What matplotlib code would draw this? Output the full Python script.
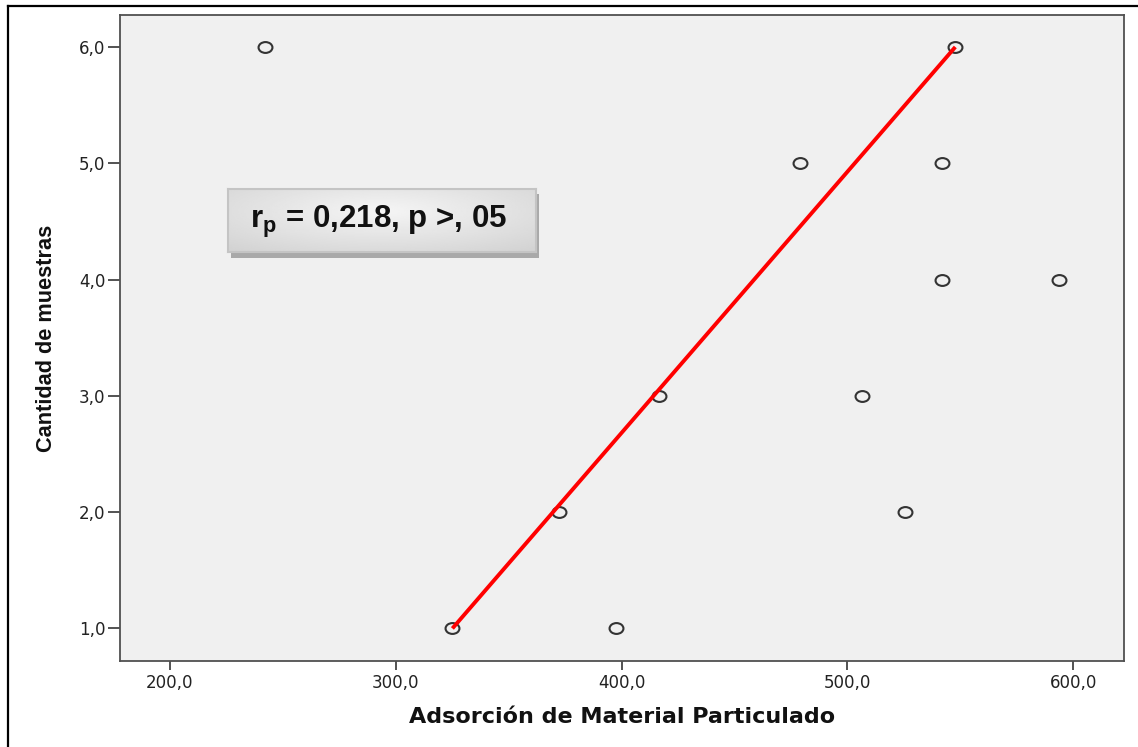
import matplotlib

matplotlib.use("Agg")
import matplotlib.pyplot as plt
import numpy as np
from matplotlib.lines import Line2D
from matplotlib.path import Path
from matplotlib.transforms import Affine2D

plt.rcParams["font.family"] = ["Liberation Sans", "DejaVu Sans"]
plt.rcParams["mathtext.fontset"] = "custom"
plt.rcParams["mathtext.rm"] = "Liberation Sans"
plt.rcParams["mathtext.bf"] = "Liberation Sans:bold"

# Adsorption of particulate matter vs. number of samples
adsorcion = [242.0, 547.8, 478.9, 541.7, 542.1, 593.8, 416.6, 506.3, 372.4, 525.7, 325.1, 397.6]
cantidad = [6.0, 6.0, 5.0, 5.0, 4.0, 4.0, 3.0, 3.0, 2.0, 2.0, 1.0, 1.0]

# red trend line drawn between two of the samples
linea_x = [325.1, 547.8]
linea_y = [1.0, 6.0]

x_ticks = [200, 300, 400, 500, 600]
y_ticks = [1, 2, 3, 4, 5, 6]
x_label = "Adsorción de Material Particulado"
y_label = "Cantidad de muestras"
anotacion = r"$\mathbf{r_{p}}$ = 0,218, p >, 05"

W, H = 1138, 747
fig = plt.figure(figsize=(W / 100, H / 100), dpi=100)


def px_rect(x0, y0, x1, y1):
    """Pixel box (top-left origin) -> figure fraction rect."""
    return [x0 / W, (H - y1) / H, (x1 - x0) / W, (y1 - y0) / H]


ax = fig.add_axes(px_rect(120, 15, 1124, 661))
ax.set_facecolor("#f0f0f0")
ax.set_xlim(177.9, 622.5)
ax.set_ylim(0.72, 6.275)

# slightly flattened open circle, as in SPSS scatter output
oval = Path.unit_circle().transformed(Affine2D().scale(1.0, 0.78))
ax.plot(adsorcion, cantidad, linestyle="none", marker=oval, markersize=10,
        markerfacecolor="none", markeredgecolor="#333333", markeredgewidth=1.5,
        zorder=3)
ax.plot(linea_x, linea_y, color="#ff0000", linewidth=2.8, zorder=4,
        solid_capstyle="butt")

ax.set_xticks(x_ticks)
ax.set_yticks(y_ticks)
ax.set_xticklabels([f"{v:.1f}".replace(".", ",") for v in x_ticks])
ax.set_yticklabels([f"{v:.1f}".replace(".", ",") for v in y_ticks])
for lbl in ax.get_xticklabels() + ax.get_yticklabels():
    lbl.set_family("DejaVu Sans")
ax.tick_params(axis="x", length=6.5, width=1.3, color="#444444", pad=3,
               labelsize=12, labelcolor="#222222")
ax.tick_params(axis="y", length=8.6, width=1.3, color="#444444", pad=2,
               labelsize=12, labelcolor="#222222")
for spine in ax.spines.values():
    spine.set_color("#505050")
    spine.set_linewidth(1.3)

ax.set_xlabel(x_label, fontsize=16, fontweight="bold", color="#111111",
              family="DejaVu Sans")
ax.set_ylabel(y_label, fontsize=15.7, fontweight="bold", color="#111111")
ax.xaxis.set_label_coords(0.5, (661 - 717) / 646)
ax.xaxis.label.set_va("center")
ax.yaxis.set_label_coords((47 - 120) / 1004, 0.5)
ax.yaxis.label.set_va("center")

# annotation box with drop shadow and soft gradient fill
sombra = fig.add_axes(px_rect(231, 194, 539, 258))
sombra.set_facecolor("#a9a9a9")
sombra.set_xticks([])
sombra.set_yticks([])
for spine in sombra.spines.values():
    spine.set_visible(False)

caja = fig.add_axes(px_rect(228, 189, 536, 252))
gx, gy = np.meshgrid(np.linspace(-1, 1, 200), np.linspace(-1, 1, 60))
shade = 0.96 - 0.10 * np.sqrt((gx * 0.9) ** 2 + ((gy + 0.3) * 0.8) ** 2)
caja.imshow(shade, cmap="gray", vmin=0, vmax=1, aspect="auto",
            extent=[0, 1, 0, 1], interpolation="bilinear")
caja.set_xlim(0, 1)
caja.set_ylim(0, 1)
caja.set_xticks([])
caja.set_yticks([])
for spine in caja.spines.values():
    spine.set_color("#c4c4c4")
    spine.set_linewidth(1.5)
caja.text(0.49, 0.48, anotacion, ha="center", va="center", fontsize=22.5,
          fontweight="bold", family="Liberation Sans", color="#111111",
          transform=caja.transAxes)

# outer border (top and left edges only)
fig.add_artist(Line2D([8 / W, 1.0], [1 - 6 / H, 1 - 6 / H], color="black",
                      linewidth=1.6, transform=fig.transFigure))
fig.add_artist(Line2D([8 / W, 8 / W], [0.0, 1 - 6 / H], color="black",
                      linewidth=1.6, transform=fig.transFigure))

fig.savefig("out.png", dpi=100)
